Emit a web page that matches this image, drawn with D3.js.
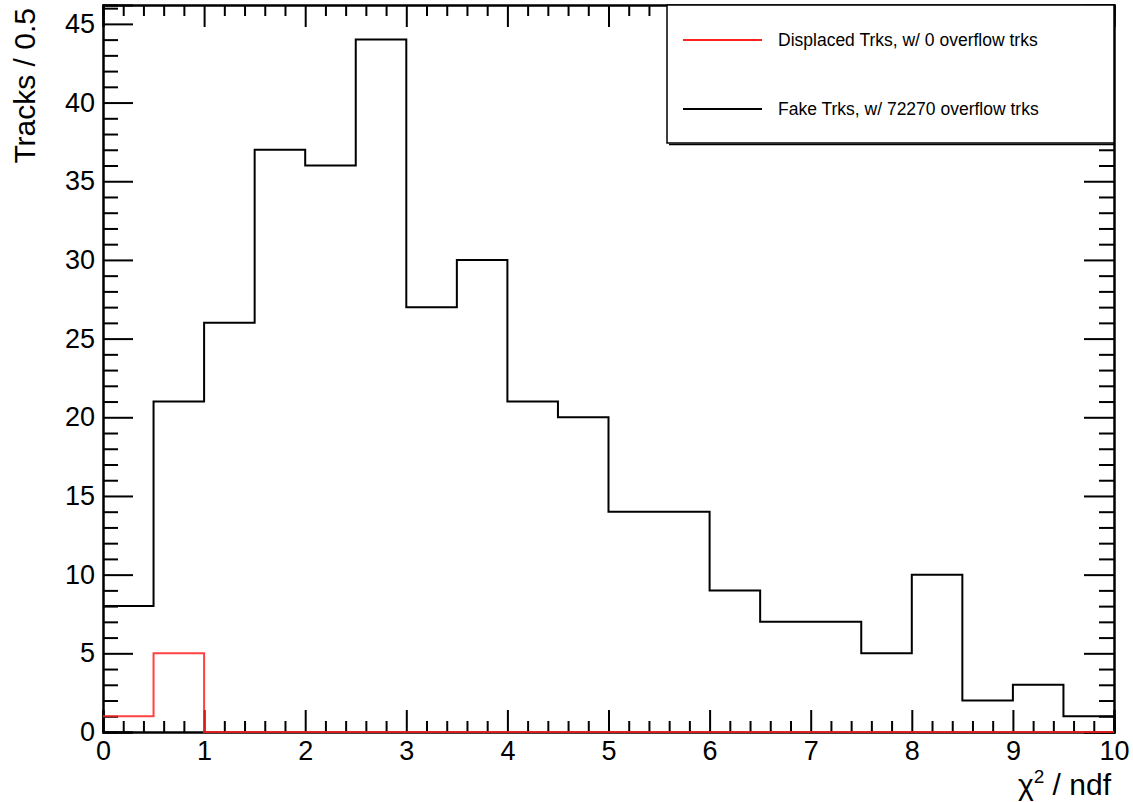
<!DOCTYPE html>
<html>
<head>
<meta charset="utf-8">
<script src="https://cdnjs.cloudflare.com/ajax/libs/d3/7.8.5/d3.min.js"></script>
<style>
body { margin:0; background:#fff; }
svg { display:block; font-family:"Liberation Sans", Arial, sans-serif; }
.tick text { font-size:27px; fill:#000; }
.domain { stroke:#000; stroke-width:2; }
.tick line { stroke:#000; stroke-width:2; }
</style>
</head>
<body>
<svg></svg>
<script>
//bin edges of the histogram (width 0.5)
var binEdges = [0,0.5,1,1.5,2,2.5,3,3.5,4,4.5,5,5.5,6,6.5,7,7.5,8,8.5,9,9.5,10]
//tracks per bin
var fakeCounts = [8,21,26,37,36,44,27,30,21,20,14,14,9,7,7,5,10,2,3,1]
var displacedCounts = [1,5,0,0,0,0,0,0,0,0,0,0,0,0,0,0,0,0,0,0]
var xTicks = [0,1,2,3,4,5,6,7,8,9,10]
var yTicks = [0,5,10,15,20,25,30,35,40,45]
var legendNames = ["Displaced Trks, w/ 0 overflow trks","Fake Trks, w/ 72270 overflow trks"]
var seriesColors = ["#ff2020","#000000"]

var screen = {width:1133,height:802}
var margins = {left:103,right:19,top:5,bottom:70}
var graphDim = {
    width:screen.width-margins.left-margins.right,
    height:screen.height-margins.top-margins.bottom
}

var svg = d3.select("svg")
    .attr("width",screen.width)
    .attr("height",screen.height)

var xScale = d3.scaleLinear().domain([0,10]).range([0,graphDim.width])
var yScale = d3.scaleLinear().domain([0,46.2]).range([graphDim.height,0])

var xMinor = d3.range(0,10.001,0.2).filter(function(v){return Math.abs(v-Math.round(v))>0.01})
var yMinor = d3.range(0,46.2,1).filter(function(v){return v%5!=0})

var plot = svg.append("g")
    .attr("transform","translate("+margins.left+","+margins.top+")")

//frame axes: bottom, top, left, right with inward ticks
var bottomAxis = plot.append("g").attr("transform","translate(0,"+graphDim.height+")")
bottomAxis.call(d3.axisBottom(xScale).tickValues(xTicks).tickSize(-22).tickPadding(9).tickFormat(d3.format("d")))
bottomAxis.append("g").call(d3.axisBottom(xScale).tickValues(xMinor).tickSize(-11).tickFormat(""))

var topAxis = plot.append("g")
topAxis.call(d3.axisTop(xScale).tickValues(xTicks).tickSize(-22).tickFormat(""))
topAxis.append("g").call(d3.axisTop(xScale).tickValues(xMinor).tickSize(-11).tickFormat(""))

var leftAxis = plot.append("g")
leftAxis.call(d3.axisLeft(yScale).tickValues(yTicks).tickSize(-30).tickPadding(8).tickFormat(d3.format("d")))
leftAxis.append("g").call(d3.axisLeft(yScale).tickValues(yMinor).tickSize(-15).tickFormat(""))

var rightAxis = plot.append("g").attr("transform","translate("+graphDim.width+",0)")
rightAxis.call(d3.axisRight(yScale).tickValues(yTicks).tickSize(-30).tickFormat(""))
rightAxis.append("g").call(d3.axisRight(yScale).tickValues(yMinor).tickSize(-15).tickFormat(""))

//step outline for a histogram
var stepLine = d3.line()
    .x(function(d){return xScale(d.x)})
    .y(function(d){return yScale(d.y)})
    .curve(d3.curveStepAfter)

var toPoints = function(counts)
{
    var pts = counts.map(function(c,i){return {x:binEdges[i],y:c}})
    pts.push({x:binEdges[binEdges.length-1],y:counts[counts.length-1]})
    return pts
}

plot.append("path")
    .attr("d",stepLine(toPoints(fakeCounts)))
    .attr("fill","none")
    .attr("stroke",seriesColors[1])
    .attr("stroke-width",2)

plot.append("path")
    .attr("d",stepLine(toPoints(displacedCounts)))
    .attr("fill","none")
    .attr("stroke",seriesColors[0])
    .attr("stroke-width",2)
    .attr("stroke-opacity",0.85)

//legend
var legend = svg.append("g").attr("transform","translate(667,5)")
legend.append("rect")
    .attr("width",447).attr("height",138)
    .attr("fill","#fff").attr("stroke","#000").attr("stroke-width",1.5)
legend.append("line")
    .attr("x1",2).attr("x2",447).attr("y1",139.5).attr("y2",139.5)
    .attr("stroke","#000").attr("stroke-width",1.5)

var entries = legend.selectAll("g.entry")
    .data(legendNames)
    .enter().append("g")
    .attr("class","entry")
    .attr("transform",function(d,i){return "translate(0,"+(35+i*69)+")"})
entries.append("line")
    .attr("x1",16).attr("x2",95)
    .attr("stroke",function(d,i){return seriesColors[i]})
    .attr("stroke-width",2)
entries.append("text")
    .text(function(d){return d})
    .attr("x",111).attr("y",6)
    .attr("font-size","17.5px")
    .attr("fill","#000")

//axis titles
svg.append("text")
    .attr("transform","translate(35,8) rotate(-90)")
    .attr("text-anchor","end")
    .attr("font-size","30px")
    .text("Tracks / 0.5")

var xTitle = svg.append("text")
    .attr("x",1111).attr("y",795)
    .attr("text-anchor","end")
    .attr("font-size","30px")
xTitle.append("tspan").text("χ")
xTitle.append("tspan").attr("font-size","19px").attr("dy","-12").text("2")
xTitle.append("tspan").attr("dy","12").text(" / ndf")
</script>
</body>
</html>
